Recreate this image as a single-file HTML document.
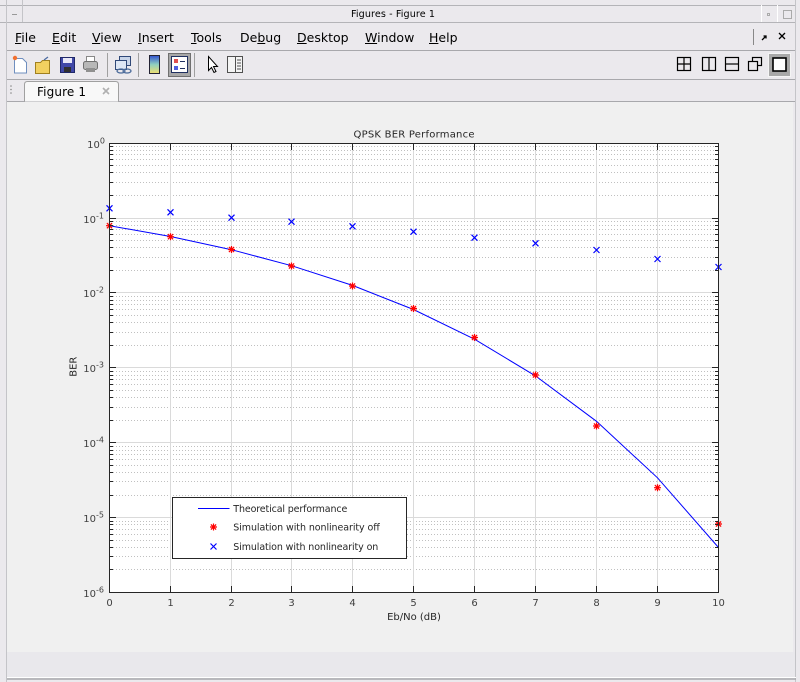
<!DOCTYPE html>
<html><head><meta charset="utf-8">
<style>
html,body{margin:0;padding:0;background:#ebe9ed;}
#wrap{position:relative;width:800px;height:682px;overflow:hidden;background:#ebe9ed;font-family:"DejaVu Sans","Liberation Sans",sans-serif;}
.m{position:absolute;top:30px;font-size:12.5px;line-height:15px;color:#000;white-space:nowrap;}
svg{position:absolute;left:0;top:0;}
</style></head>
<body><div id="wrap">
<svg width="800" height="682" viewBox="0 0 800 682" xmlns="http://www.w3.org/2000/svg" font-family="DejaVu Sans, Liberation Sans, sans-serif">
<defs>
<g id="st" stroke="#ff0000" stroke-width="1.2" fill="none"><path d="M-3.5 0h7M0 -3.5v7M-2.6 -2.6l5.2 5.2M-2.6 2.6l5.2 -5.2"/></g>
<g id="bx" stroke="#0000ff" stroke-width="1.2" fill="none"><path d="M-3 -3l6 6M-3 3l6 -6"/></g>
<linearGradient id="cb" x1="0" y1="0" x2="0" y2="1"><stop offset="0" stop-color="#3050d0"/><stop offset="0.5" stop-color="#8fd0c0"/><stop offset="1" stop-color="#f0e070"/></linearGradient>
</defs>
<!-- window frame -->
<rect x="0" y="0" width="800" height="682" fill="#ebe9ed"/>
<line x1="0" y1="5.5" x2="796" y2="5.5" stroke="#b4b4b8"/>
<line x1="0" y1="22.5" x2="796" y2="22.5" stroke="#b4b4b8"/>
<line x1="6.5" y1="0" x2="6.5" y2="682" stroke="#c4c4c8"/>
<line x1="22.5" y1="0" x2="22.5" y2="22" stroke="#c4c4c8"/>
<line x1="12" y1="14.5" x2="17" y2="14.5" stroke="#999"/>
<line x1="761.5" y1="5" x2="761.5" y2="22" stroke="#fff"/>
<line x1="777.5" y1="5" x2="777.5" y2="22" stroke="#fff"/>
<rect x="767.5" y="13.5" width="2" height="2" fill="none" stroke="#aaa"/>
<rect x="783.5" y="10.5" width="8" height="8" fill="none" stroke="#aaa"/>
<line x1="795.5" y1="0" x2="795.5" y2="682" stroke="#c4c4c8"/>
<text x="393" y="17" font-size="9.6" text-anchor="middle" fill="#000" textLength="84">Figures - Figure 1</text>
<!-- menu bar right -->
<line x1="753.5" y1="29" x2="753.5" y2="45" stroke="#888"/>
<path d="M762 40l4 -4M763.5 36h2.5v2.5" stroke="#000" stroke-width="1.3" fill="none"/>
<path d="M779 33l6 6M779 39l6 -6" stroke="#000" stroke-width="1.3" fill="none"/>
<line x1="7" y1="50.5" x2="795" y2="50.5" stroke="#a8a8ac"/>
<line x1="7" y1="79.5" x2="795" y2="79.5" stroke="#a8a8ac"/>
<line x1="7" y1="101.5" x2="795" y2="101.5" stroke="#a8a8ac"/>
<!-- toolbar icons -->
<path d="M14.5 58.5h8l4 4v10.5h-12z" fill="#fff" stroke="#6f8fbf"/>
<circle cx="15" cy="58" r="2.2" fill="#f07030"/>
<path d="M35.5 62.5h5l2 -2h7v13h-14z" fill="#f2d060" stroke="#a08020"/>
<path d="M44 60l4 -3" stroke="#4a6aa0" stroke-width="1.2"/>
<rect x="60.5" y="57.5" width="14" height="15" fill="#4048a8" stroke="#202868"/>
<rect x="63" y="58" width="9" height="5" fill="#e8e8f8"/>
<rect x="64" y="67" width="7" height="5" fill="#303030"/>
<rect x="86.5" y="56.5" width="8" height="5" fill="#fff" stroke="#888"/>
<rect x="83.5" y="61.5" width="14" height="8" rx="2" fill="#b8b8b8" stroke="#707070"/>
<rect x="86" y="68" width="9" height="4" fill="#909090"/>
<line x1="107.5" y1="53" x2="107.5" y2="77" stroke="#a0a0a0"/>
<rect x="119.5" y="56.5" width="11" height="9" fill="#c8d4e8" stroke="#304878"/>
<rect x="115.5" y="60.5" width="11" height="9" fill="#dde6f4" stroke="#304878"/>
<ellipse cx="121" cy="71" rx="4" ry="2" fill="none" stroke="#4a6a9a" stroke-width="1.3"/>
<ellipse cx="127" cy="71" rx="4" ry="2" fill="none" stroke="#4a6a9a" stroke-width="1.3"/>
<line x1="138.5" y1="53" x2="138.5" y2="77" stroke="#a0a0a0"/>
<rect x="149.5" y="55.5" width="10" height="18" fill="url(#cb)" stroke="#223"/>
<rect x="168.5" y="53.5" width="22" height="23" fill="#a8a8a8" stroke="#707070"/>
<rect x="171.5" y="56.5" width="16" height="16" fill="#fff" stroke="#203060"/>
<rect x="174" y="59" width="4" height="4" fill="#e05050"/>
<rect x="174" y="66" width="4" height="4" fill="#5060e0"/>
<line x1="180" y1="61.5" x2="185" y2="61.5" stroke="#203060"/>
<line x1="180" y1="68.5" x2="185" y2="68.5" stroke="#203060"/>
<line x1="194.5" y1="53" x2="194.5" y2="77" stroke="#a0a0a0"/>
<path d="M208.5 56.5v14l3 -3 2.5 5 2 -1 -2.5 -5h4z" fill="#fff" stroke="#000"/>
<rect x="227.5" y="56.5" width="15" height="16" fill="#f4f4f4" stroke="#505050"/>
<line x1="235.5" y1="57" x2="235.5" y2="72" stroke="#505050"/>
<path d="M237 60h4M237 63h4M237 66h4M237 69h4" stroke="#505050"/>
<!-- right toolbar -->
<g fill="none" stroke="#000" stroke-width="1.2">
<rect x="677.5" y="57.5" width="13" height="13"/><path d="M684 57.5v13M677.5 64h13"/>
<rect x="702.5" y="57.5" width="13" height="13"/><path d="M709 57.5v13"/>
<rect x="725.5" y="57.5" width="13" height="13"/><path d="M725.5 64h13"/>
<rect x="752.5" y="57.5" width="9" height="8"/><rect x="748.5" y="61.5" width="9" height="9" fill="#ebe9ed"/>
</g>
<rect x="768.5" y="53.5" width="22" height="23" fill="#a8a8a8" stroke="#f4f4f4"/>
<rect x="773" y="58" width="13" height="13" fill="#fff" stroke="#000" stroke-width="1.6"/>
<!-- tab -->
<circle cx="11" cy="86" r="0.8" fill="#888"/><circle cx="11" cy="89.5" r="0.8" fill="#888"/><circle cx="11" cy="93" r="0.8" fill="#888"/>
<path d="M24.5 101.5v-17q0 -3 3 -3h88q3 0 3 3v17" fill="#f8f8f8" stroke="#a0a0a0"/>
<text x="37" y="96" font-size="12" fill="#000" textLength="49">Figure 1</text>
<path d="M103 88l6 6M103 94l6 -6" stroke="#b0b0b0" stroke-width="1.6"/>
<!-- figure area -->
<rect x="7" y="102" width="786" height="550" fill="#f0f0f0"/>
<rect x="7" y="652" width="788" height="25" fill="#e9e8ec"/>
<line x1="7" y1="677.5" x2="796" y2="677.5" stroke="#fff"/>
<line x1="7" y1="679" x2="796" y2="679" stroke="#a8a8ac" stroke-width="1.5"/>
<!-- axes -->
<rect x="109.5" y="143.5" width="609" height="449" fill="#fff"/>
<g stroke="#c0c0c0" stroke-dasharray="1 2" stroke-width="1">
<path d="M110 195.5H718M110 182.5H718M110 172.5H718M110 165.5H718M110 159.5H718M110 154.5H718M110 150.5H718M110 146.5H718
M110 270.5H718M110 257.5H718M110 247.5H718M110 240.5H718M110 234.5H718M110 229.5H718M110 225.5H718M110 221.5H718
M110 345.5H718M110 332.5H718M110 322.5H718M110 315.5H718M110 309.5H718M110 304.5H718M110 300.5H718M110 296.5H718
M110 420.5H718M110 407.5H718M110 397.5H718M110 390.5H718M110 384.5H718M110 379.5H718M110 375.5H718M110 371.5H718
M110 495.5H718M110 481.5H718M110 472.5H718M110 465.5H718M110 459.5H718M110 454.5H718M110 450.5H718M110 446.5H718
M110 569.5H718M110 556.5H718M110 547.5H718M110 540.5H718M110 534.5H718M110 529.5H718M110 524.5H718M110 521.5H718"/>
</g>
<g stroke="#dadada" stroke-width="1">
<path d="M110 218.5H718M110 292.5H718M110 367.5H718M110 442.5H718M110 517.5H718"/>
<path d="M170.5 144V592M231.5 144V592M291.5 144V592M352.5 144V592M413.5 144V592M474.5 144V592M535.5 144V592M596.5 144V592M657.5 144V592"/>
</g>
<!-- data -->
<polyline fill="none" stroke="#0000ff" stroke-width="1" points="109.5,225.7 170.5,236.5 231.5,249.7 291.5,265.7 352.5,285.4 413.5,309.5 474.5,339.2 535.5,375.9 596.5,421.3 657.5,477.8 718.5,547.5"/>
<use href="#st" x="109.5" y="225.7"/><use href="#st" x="170.5" y="236.7"/><use href="#st" x="231.5" y="249.5"/>
<use href="#st" x="291.5" y="266"/><use href="#st" x="352.5" y="286"/><use href="#st" x="413.5" y="308.5"/>
<use href="#st" x="474.5" y="337.5"/><use href="#st" x="535.5" y="375"/><use href="#st" x="596.5" y="426"/>
<use href="#st" x="657.5" y="487.7"/><use href="#st" x="718.5" y="524"/>
<use href="#bx" x="109.5" y="208.3"/><use href="#bx" x="170.5" y="212.3"/><use href="#bx" x="231.5" y="217.7"/>
<use href="#bx" x="291.5" y="221.7"/><use href="#bx" x="352.5" y="226.3"/><use href="#bx" x="413.5" y="231.7"/>
<use href="#bx" x="474.5" y="237.7"/><use href="#bx" x="535.5" y="243.3"/><use href="#bx" x="596.5" y="250"/>
<use href="#bx" x="657.5" y="259"/><use href="#bx" x="718.5" y="267"/>
<!-- box + ticks -->
<rect x="109.5" y="143.5" width="609" height="449" fill="none" stroke="#262626"/>
<g stroke="#262626" stroke-width="1">
<path d="M170.5 592v-6M231.5 592v-6M291.5 592v-6M352.5 592v-6M413.5 592v-6M474.5 592v-6M535.5 592v-6M596.5 592v-6M657.5 592v-6
M170.5 144v6M231.5 144v6M291.5 144v6M352.5 144v6M413.5 144v6M474.5 144v6M535.5 144v6M596.5 144v6M657.5 144v6"/>
<path d="M110 218.5h6M110 292.5h6M110 367.5h6M110 442.5h6M110 517.5h6M718 218.5h-6M718 292.5h-6M718 367.5h-6M718 442.5h-6M718 517.5h-6"/>
<path d="M110 195.5h3M110 182.5h3M110 172.5h3M110 165.5h3M110 159.5h3M110 154.5h3M110 150.5h3M110 146.5h3
M110 270.5h3M110 257.5h3M110 247.5h3M110 240.5h3M110 234.5h3M110 229.5h3M110 225.5h3M110 221.5h3
M110 345.5h3M110 332.5h3M110 322.5h3M110 315.5h3M110 309.5h3M110 304.5h3M110 300.5h3M110 296.5h3
M110 420.5h3M110 407.5h3M110 397.5h3M110 390.5h3M110 384.5h3M110 379.5h3M110 375.5h3M110 371.5h3
M110 495.5h3M110 481.5h3M110 472.5h3M110 465.5h3M110 459.5h3M110 454.5h3M110 450.5h3M110 446.5h3
M110 569.5h3M110 556.5h3M110 547.5h3M110 540.5h3M110 534.5h3M110 529.5h3M110 524.5h3M110 521.5h3
M718 195.5h-3M718 182.5h-3M718 172.5h-3M718 165.5h-3M718 159.5h-3M718 154.5h-3M718 150.5h-3M718 146.5h-3
M718 270.5h-3M718 257.5h-3M718 247.5h-3M718 240.5h-3M718 234.5h-3M718 229.5h-3M718 225.5h-3M718 221.5h-3
M718 345.5h-3M718 332.5h-3M718 322.5h-3M718 315.5h-3M718 309.5h-3M718 304.5h-3M718 300.5h-3M718 296.5h-3
M718 420.5h-3M718 407.5h-3M718 397.5h-3M718 390.5h-3M718 384.5h-3M718 379.5h-3M718 375.5h-3M718 371.5h-3
M718 495.5h-3M718 481.5h-3M718 472.5h-3M718 465.5h-3M718 459.5h-3M718 454.5h-3M718 450.5h-3M718 446.5h-3
M718 569.5h-3M718 556.5h-3M718 547.5h-3M718 540.5h-3M718 534.5h-3M718 529.5h-3M718 524.5h-3M718 521.5h-3"/>
</g>
<!-- tick labels -->
<g font-size="10" fill="#404040" text-anchor="middle">
<text x="109.5" y="606">0</text><text x="170.5" y="606">1</text><text x="231.5" y="606">2</text><text x="291.5" y="606">3</text>
<text x="352.5" y="606">4</text><text x="413.5" y="606">5</text><text x="474.5" y="606">6</text><text x="535.5" y="606">7</text>
<text x="596.5" y="606">8</text><text x="657.5" y="606">9</text><text x="718.5" y="606">10</text>
</g>
<g font-size="10" fill="#404040" text-anchor="end">
<text x="105" y="148">10<tspan font-size="8" dy="-4.5">0</tspan></text>
<text x="104" y="223">10<tspan font-size="8" dy="-4.5">-1</tspan></text>
<text x="104" y="297">10<tspan font-size="8" dy="-4.5">-2</tspan></text>
<text x="104" y="372">10<tspan font-size="8" dy="-4.5">-3</tspan></text>
<text x="104" y="447">10<tspan font-size="8" dy="-4.5">-4</tspan></text>
<text x="104" y="522">10<tspan font-size="8" dy="-4.5">-5</tspan></text>
<text x="104" y="597">10<tspan font-size="8" dy="-4.5">-6</tspan></text>
</g>
<text x="414" y="137.5" font-size="10" fill="#262626" text-anchor="middle" textLength="121">QPSK BER Performance</text>
<text x="414" y="620" font-size="10" fill="#262626" text-anchor="middle">Eb/No (dB)</text>
<text transform="translate(76.5,366.7) rotate(-90)" font-size="10" fill="#262626" text-anchor="middle">BER</text>
<!-- legend -->
<rect x="172.5" y="497.5" width="234" height="61" fill="#fff" stroke="#262626"/>
<line x1="198" y1="508.5" x2="229.5" y2="508.5" stroke="#0000ff"/>
<use href="#st" x="213.5" y="527"/>
<use href="#bx" x="213.5" y="546.5"/>
<g font-size="9.5" fill="#262626">
<text x="233.3" y="512" textLength="114">Theoretical performance</text>
<text x="233.3" y="530.5" textLength="146.5">Simulation with nonlinearity off</text>
<text x="233.3" y="550" textLength="145">Simulation with nonlinearity on</text>
</g>
</svg>
<div class="m" style="left:15px"><u>F</u>ile</div>
<div class="m" style="left:52px"><u>E</u>dit</div>
<div class="m" style="left:92px"><u>V</u>iew</div>
<div class="m" style="left:138px"><u>I</u>nsert</div>
<div class="m" style="left:191px"><u>T</u>ools</div>
<div class="m" style="left:240px">De<u>b</u>ug</div>
<div class="m" style="left:297px"><u>D</u>esktop</div>
<div class="m" style="left:365px"><u>W</u>indow</div>
<div class="m" style="left:429px"><u>H</u>elp</div>
</div></body></html>
